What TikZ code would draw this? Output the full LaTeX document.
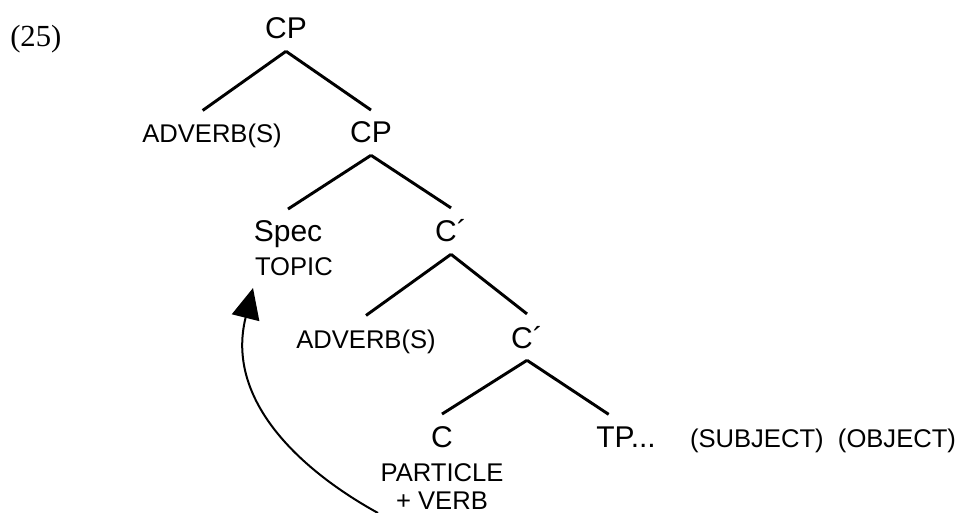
\documentclass[tikz,border=0pt]{standalone}
\usepackage{fontspec}
\setmainfont{Liberation Sans}
\newfontfamily\numfont{Liberation Serif}
\usetikzlibrary{arrows.meta}
\begin{document}
\begin{tikzpicture}[x=0.75pt,y=-0.75pt,
  big/.style={font=\fontsize{22.5pt}{26pt}\selectfont, anchor=base, inner sep=0pt, outer sep=9pt},
  small/.style={font=\fontsize{19.2pt}{22.5pt}\selectfont, anchor=base, inner sep=0pt, outer sep=10.5pt},
  lab/.style={font=\fontsize{19.2pt}{22.5pt}\selectfont, inner sep=0pt, outer sep=0pt},
  branch/.style={line width=2.2pt},
  move/.style={line width=1.5pt, -{Triangle[length=23pt,width=21pt]}}]
\useasboundingbox (0,0) rectangle (966,513);
% example number
\node[anchor=base west, inner sep=0pt, font=\numfont\fontsize{23pt}{27pt}\selectfont] (num) at (10,47) {(25)};
% tree nodes
\node[big]   (cp1)  at (286,39)  {CP};
\node[small] (adv1) at (212,143) {ADVERB(S)};
\node[big]   (cp2)  at (371,143) {CP};
\node[big]   (spec) at (288,242) {Spec};
\node[lab, anchor=base west] (topic) at (255,275) {TOPIC};
\node[big]   (cb1)  at (451,242) {C´};
\node[small] (adv2) at (366,348) {ADVERB(S)};
\node[big]   (cb2)  at (527,348) {C´};
\node[big]   (c)    at (442,447) {C};
\node[lab, anchor=base] (part) at (442,481) {PARTICLE};
\node[lab, anchor=base] (verb) at (442,509) {+ VERB};
\node[big]   (tp)   at (626,447) {TP...};
\node[lab, anchor=base west] (subj) at (690,447) {(SUBJECT)};
\node[lab, anchor=base east] (obj) at (956,447) {(OBJECT)};
% branches
\draw[branch] (cp1.south) -- ([xshift=-7pt]adv1.north);
\draw[branch] (cp1.south) -- (cp2.north);
\draw[branch] (cp2.south) -- (spec.north);
\draw[branch] (cp2.south) -- (cb1.north);
\draw[branch] (cb1.south) -- (adv2.north);
\draw[branch] (cb1.south) -- (cb2.north);
\draw[branch] (cb2.south) -- (c.north);
\draw[branch] (cb2.south) -- ([xshift=-13pt]tp.north);
% movement arrow
\coordinate (mvstart) at (378,513);
\coordinate (mvend) at (253,288);
\draw[move] (mvstart) .. controls (300,470) and (225,400) .. (mvend);
\end{tikzpicture}
\end{document}
